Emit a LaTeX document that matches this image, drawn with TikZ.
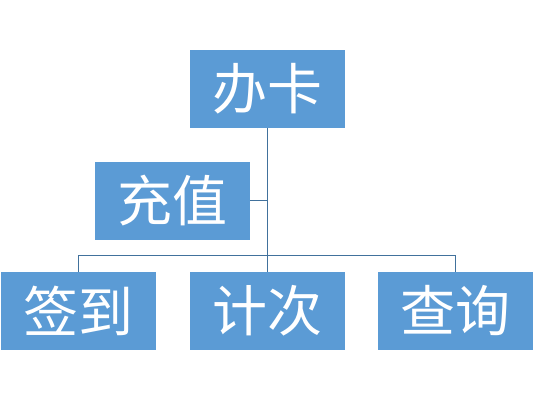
\documentclass[tikz,border=0pt]{standalone}
\usepackage{fontspec}
\newfontfamily\cjk{Noto Sans CJK SC}
\definecolor{boxblue}{HTML}{5B9BD5}
\definecolor{lineblue}{HTML}{41719C}
\begin{document}
\begin{tikzpicture}[x=1pt,y=-1pt,
  box/.style={fill=boxblue,draw=none,minimum width=155pt,minimum height=78pt,inner sep=0pt,
    text=white,font=\cjk\fontsize{55}{55}\selectfont},
  conn/.style={draw=lineblue,line width=0.9pt}]
\useasboundingbox (0,0) rectangle (534,400);
\node[box] (bk) at (267.5,89) {办卡};
\node[box] (cz) at (172.5,200.5) {充值};
\node[box] (qd) at (78.5,311) {签到};
\node[box] (jc) at (267.5,311) {计次};
\node[box] (cx) at (455,311) {查询};
\coordinate (j) at (267.5,255.5);
\draw[conn] (bk.south) -- (jc.north);
\draw[conn] (cz.east) -- (cz.east -| bk.south);
\draw[conn] (qd.north) |- (j) -| (cx.north);
\end{tikzpicture}
\end{document}
